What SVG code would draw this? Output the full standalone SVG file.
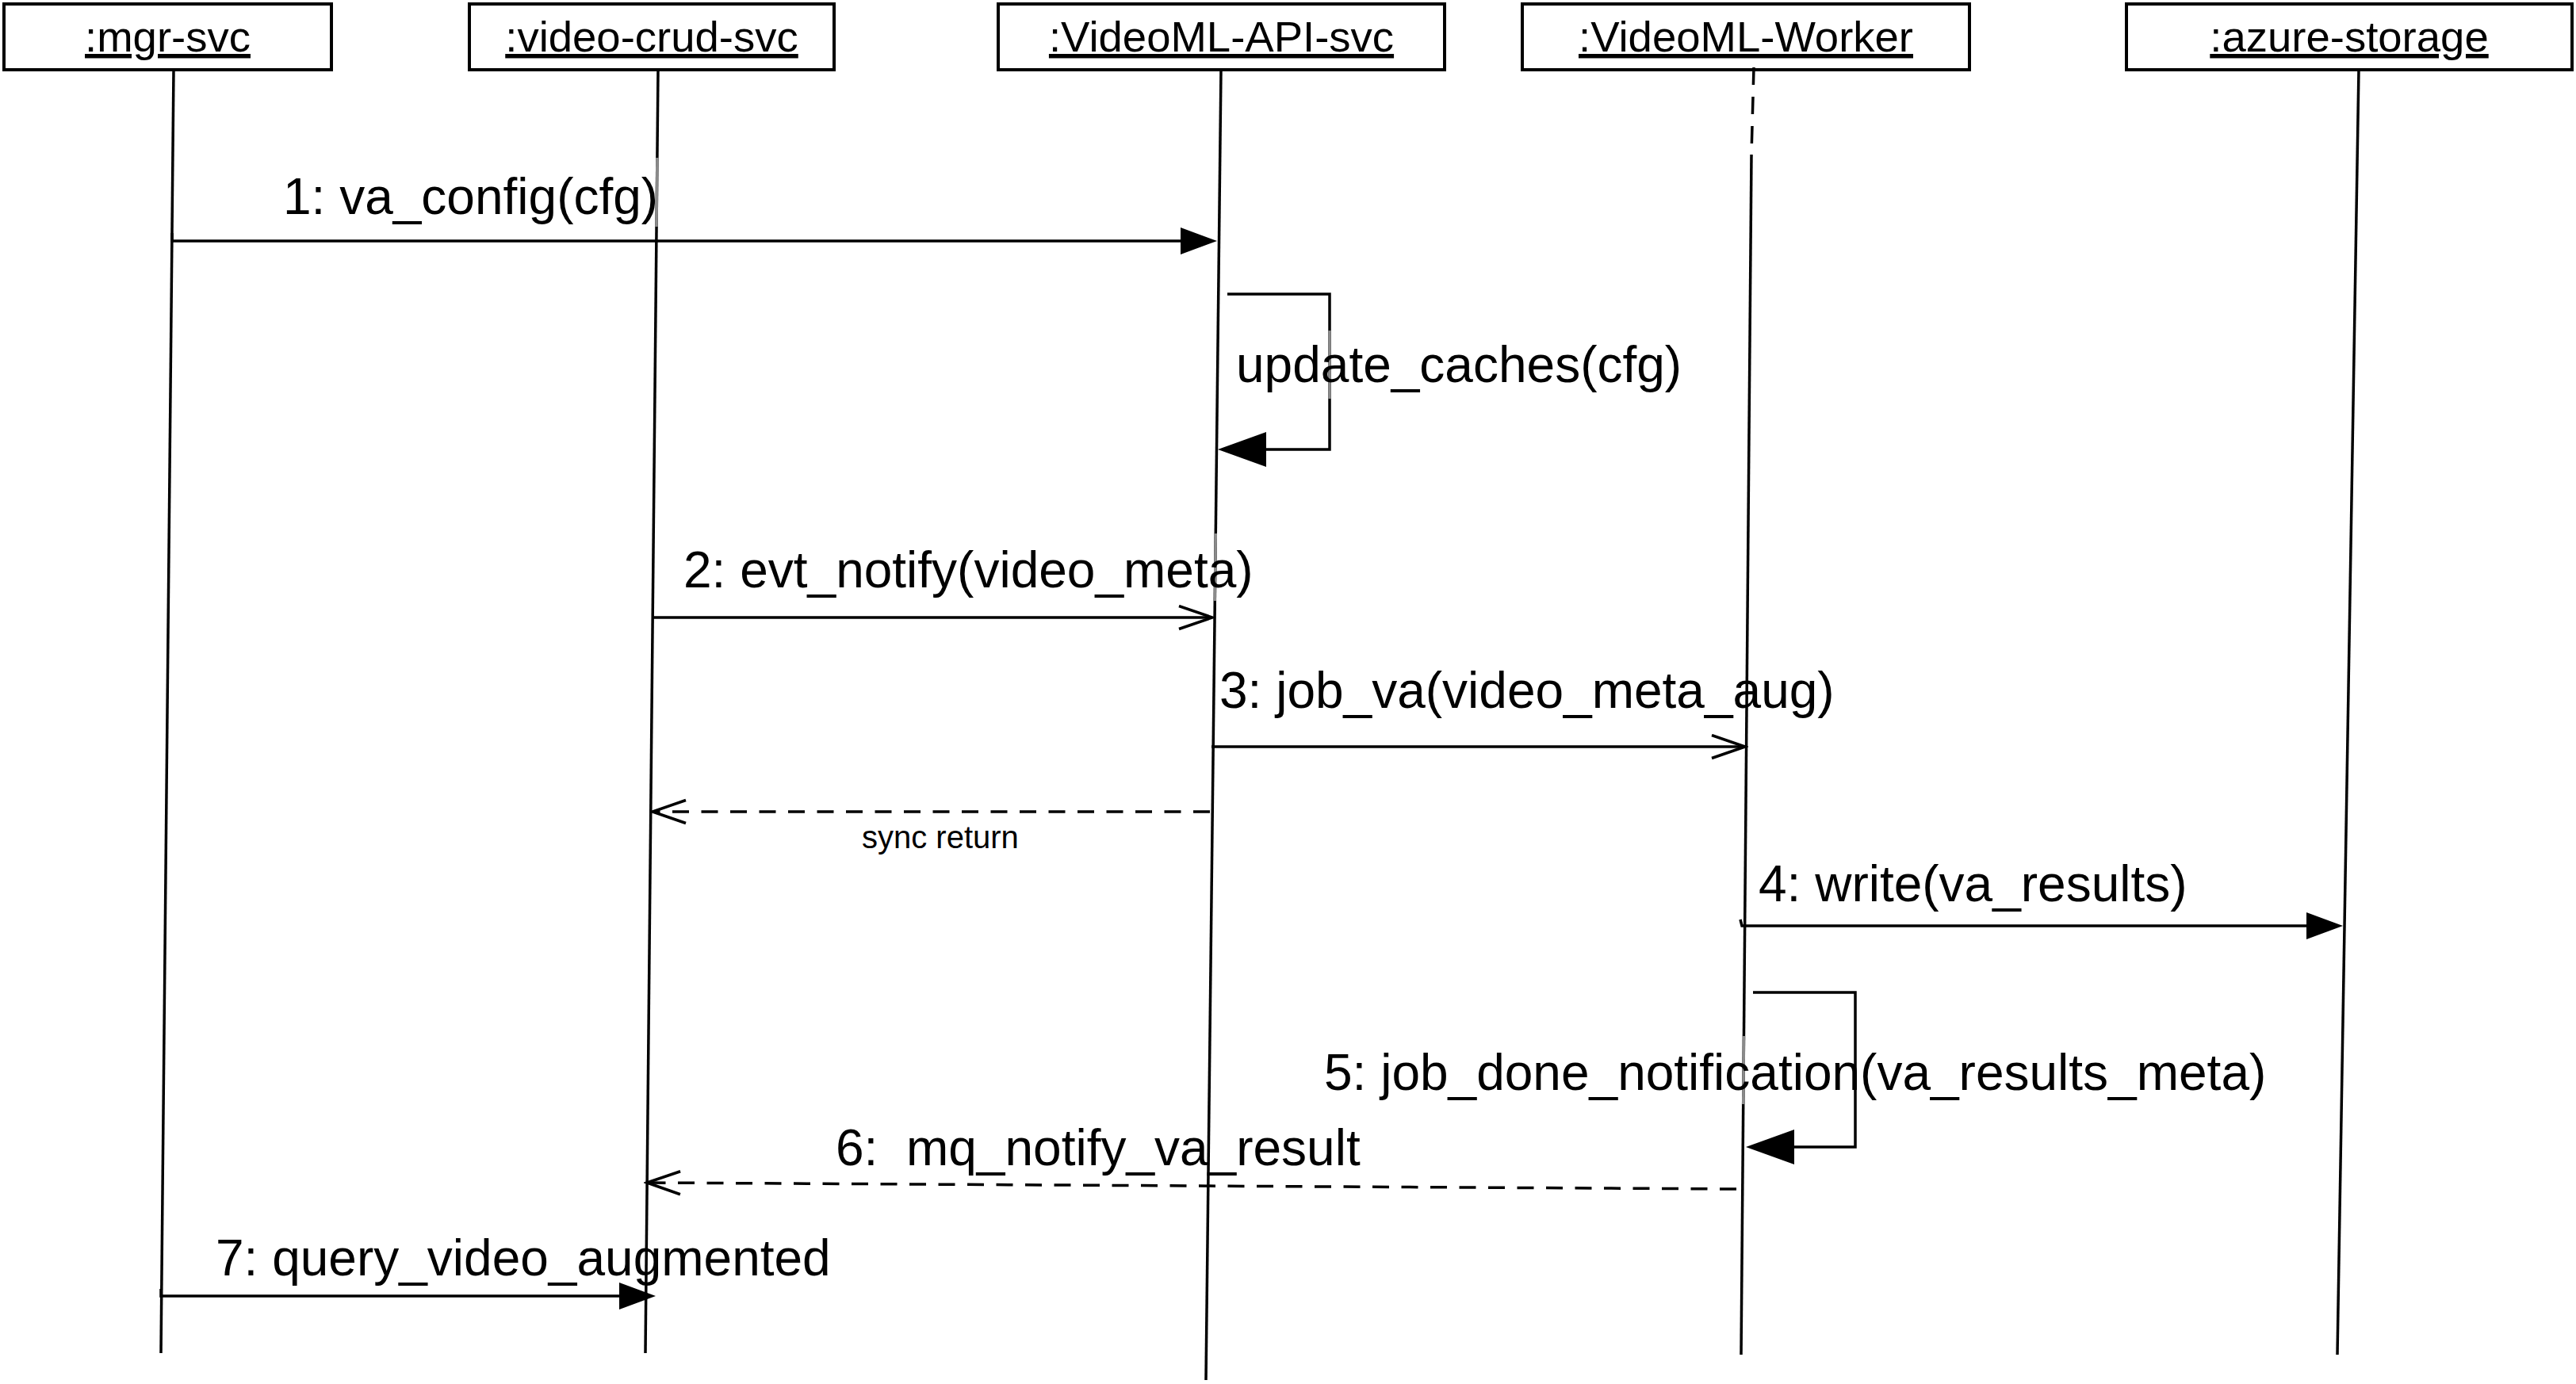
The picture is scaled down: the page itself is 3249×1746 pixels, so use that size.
<svg xmlns="http://www.w3.org/2000/svg" width="3249" height="1746" viewBox="0 0 3249 1746">
<style>
.box{fill:#fff;stroke:#000;stroke-width:4}
.hdr{font-family:"Liberation Sans",Arial,Helvetica,sans-serif;font-size:54.5px;text-anchor:middle;text-decoration:underline;fill:#000}
.life{stroke:#000;stroke-width:3.5;fill:none}
.msg{stroke:#000;stroke-width:3.5;fill:none}
.dash{stroke-dasharray:21 15.5}
.lbl{font-family:"Liberation Sans",Arial,Helvetica,sans-serif;font-size:64px;fill:#000;white-space:pre}
.small{font-size:40px}
.mask{stroke:#8a8a8a;stroke-width:3.5}
</style>
<defs>
<marker id="fill-s" markerUnits="userSpaceOnUse" viewBox="0 0 46 34" markerWidth="46" markerHeight="34" refX="36" refY="17" orient="auto">
<path d="M0,0 L46,17 L0,34 Z" fill="#000"/>
</marker>
<marker id="fill-l" markerUnits="userSpaceOnUse" viewBox="0 0 61 44" markerWidth="61" markerHeight="44" refX="51" refY="22" orient="auto">
<path d="M0,0 L61,22 L0,44 Z" fill="#000"/>
</marker>
<marker id="open" markerUnits="userSpaceOnUse" viewBox="-2 -2 48 34" markerWidth="48" markerHeight="34" refX="41" refY="14.5" orient="auto">
<path d="M0,0 L42,14.5 L0,29" fill="none" stroke="#000" stroke-width="3.5"/>
</marker>
</defs>
<rect width="3249" height="1746" fill="#fff"/>

<g id="mgr-svc">
<rect class="box" x="5" y="5" width="413" height="83"/>
<text class="hdr" x="211.5" y="65">:mgr-svc</text>
<line class="life" x1="219" y1="88" x2="203" y2="1707"/>
</g>
<g id="video-crud-svc">
<rect class="box" x="592" y="5" width="460" height="83"/>
<text class="hdr" x="822" y="65">:video-crud-svc</text>
<line class="life" x1="830" y1="88" x2="814" y2="1707"/>
</g>
<g id="videoml-api-svc">
<rect class="box" x="1259" y="5" width="563" height="83"/>
<text class="hdr" x="1540.5" y="65">:VideoML-API-svc</text>
<line class="life" x1="1540" y1="88" x2="1521" y2="1741"/>
</g>
<g id="videoml-worker">
<rect class="box" x="1920" y="5" width="564" height="83"/>
<text class="hdr" x="2202" y="65">:VideoML-Worker</text>
<line class="life" x1="2212" y1="85" x2="2209" y2="195" stroke-dasharray="22 15"/>
<line class="life" x1="2209" y1="195" x2="2196" y2="1709"/>
</g>
<g id="azure-storage">
<rect class="box" x="2682" y="5" width="562" height="83"/>
<text class="hdr" x="2963" y="65">:azure-storage</text>
<line class="life" x1="2975" y1="88" x2="2948" y2="1709"/>
</g>

<g id="connectors">
<path id="m1" class="msg" d="M217,294 L217,304 L1525,304" marker-end="url(#fill-s)"/>
<path id="m-self-api" class="msg" d="M1548,371 L1677,371 L1677,567 L1546,567" marker-end="url(#fill-l)"/>
<path id="m2" class="msg" d="M823,779 L1528,779" marker-end="url(#open)"/>
<path id="m3" class="msg" d="M1528,942 L2200,942" marker-end="url(#open)"/>
<path id="m-sync" class="msg dash" d="M1526,1024 L824,1024" marker-end="url(#open)"/>
<path id="m4" class="msg" d="M2195,1160 L2197,1168 L2945,1168" marker-end="url(#fill-s)"/>
<path id="m5" class="msg" d="M2211,1252 L2340,1252 L2340,1447 L2212,1447" marker-end="url(#fill-l)"/>
<path id="m6" class="msg dash" d="M2190,1500 L817,1492" marker-end="url(#open)"/>
<path id="m7" class="msg" d="M203,1626 L203,1635 L817,1635" marker-end="url(#fill-s)"/>
</g>

<g id="label-overlaps">
<line class="mask" x1="828.9" y1="199" x2="828" y2="286"/>
<line class="mask" x1="1677" y1="417" x2="1677" y2="503"/>
<line class="mask" x1="1533.3" y1="673" x2="1532.3" y2="758"/>
<line class="mask" x1="2199.5" y1="1307" x2="2198.7" y2="1393"/>
</g>

<g id="labels">
<text class="lbl" x="357" y="270">1: va_config(cfg)</text>
<text class="lbl" x="1559" y="482">update_caches(cfg)</text>
<text class="lbl" x="862" y="741">2: evt_notify(video_meta)</text>
<text class="lbl" x="1538" y="893">3: job_va(video_meta_aug)</text>
<text class="lbl small" x="1087" y="1070">sync return</text>
<text class="lbl" x="2218" y="1137">4: write(va_results)</text>
<text class="lbl" x="1670" y="1375">5: job_done_notification(va_results_meta)</text>
<text class="lbl" x="1054" y="1470" xml:space="preserve">6:  mq_notify_va_result</text>
<text class="lbl" x="272" y="1609">7: query_video_augmented</text>
</g>
</svg>
